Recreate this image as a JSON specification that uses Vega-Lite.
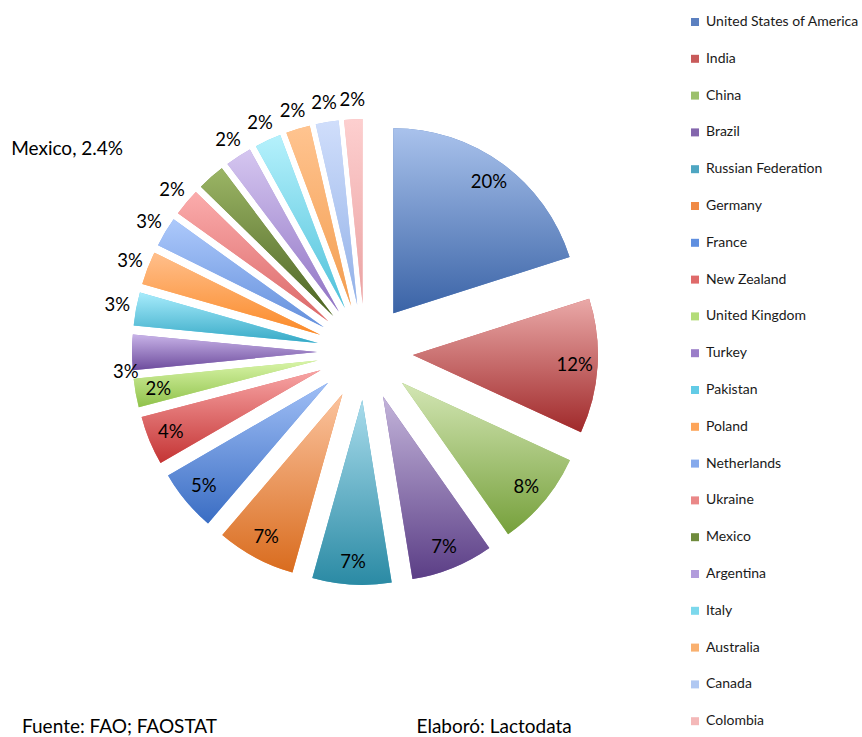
{
  "$schema": "https://vega.github.io/schema/vega-lite/v6.json",
  "width": 730,
  "height": 704,
  "autosize": {"type": "none"},
  "padding": {"left": 0, "top": 0, "right": 132, "bottom": 33},
  "background": "white",
  "config": {"view": {"stroke": null}, "font": "Lato"},
  "title": {
    "text": "Fuente: FAO; FAOSTAT\u2003\u2003\u2003\u2003\u2003\u2003\u2003\u2003\u2003\u2003\u2003\u2003\u2003\u2003Elaboró: Lactodata",
    "orient": "bottom",
    "anchor": "start",
    "frame": "group",
    "dx": 22,
    "offset": -11,
    "font": "Lato",
    "fontSize": 19,
    "fontWeight": "normal",
    "color": "#000000"
  },
  "data": {
    "values": [
      {"i": 1, "country": "United States of America", "share": 0.201},
      {"i": 2, "country": "India", "share": 0.118},
      {"i": 3, "country": "China", "share": 0.084},
      {"i": 4, "country": "Brazil", "share": 0.072},
      {"i": 5, "country": "Russian Federation", "share": 0.069},
      {"i": 6, "country": "Germany", "share": 0.069},
      {"i": 7, "country": "France", "share": 0.054},
      {"i": 8, "country": "New Zealand", "share": 0.043},
      {"i": 9, "country": "United Kingdom", "share": 0.0249},
      {"i": 10, "country": "Turkey", "share": 0.031},
      {"i": 11, "country": "Pakistan", "share": 0.029},
      {"i": 12, "country": "Poland", "share": 0.029},
      {"i": 13, "country": "Netherlands", "share": 0.026},
      {"i": 14, "country": "Ukraine", "share": 0.024},
      {"i": 15, "country": "Mexico", "share": 0.024},
      {"i": 16, "country": "Argentina", "share": 0.023},
      {"i": 17, "country": "Italy", "share": 0.023},
      {"i": 18, "country": "Australia", "share": 0.021},
      {"i": 19, "country": "Canada", "share": 0.020},
      {"i": 20, "country": "Colombia", "share": 0.016}
    ]
  },
  "encoding": {
    "theta": {"field": "share", "type": "quantitative", "stack": true},
    "order": {"field": "i", "type": "quantitative"}
  },
  "layer": [
    {
      "mark": {
        "type": "arc",
        "outerRadius": 185,
        "xOffset": {"expr": "48*sin(scale('theta', (datum.share_start + datum.share_end)/2))"},
        "yOffset": {"expr": "-48*cos(scale('theta', (datum.share_start + datum.share_end)/2))"}
      },
      "encoding": {
        "color": {
          "field": "country",
          "type": "nominal",
          "scale": {
            "domain": ["United States of America", "India", "China", "Brazil", "Russian Federation", "Germany", "France", "New Zealand", "United Kingdom", "Turkey", "Pakistan", "Poland", "Netherlands", "Ukraine", "Mexico", "Argentina", "Italy", "Australia", "Canada", "Colombia"],
            "range": ["#5b80c0", "#c85a5a", "#9cc06c", "#8466ad", "#4ea6c2", "#f08a45", "#5f8fe0", "#df6a6a", "#b3dc78", "#9a7dc8", "#62cbe6", "#fda55a", "#85a9ec", "#ea8888", "#6f8b3c", "#b29cdc", "#7cd8ec", "#f9b06f", "#b0c8f2", "#f4b8b8"]
          },
          "legend": {
            "orient": "none",
            "legendX": 688,
            "legendY": 15,
            "title": null,
            "symbolType": "square",
            "symbolSize": 64,
            "symbolStrokeWidth": 0,
            "labelFont": "Lato",
            "labelFontSize": 14,
            "labelColor": "#1a1a1a",
            "labelOffset": 4,
            "labelLimit": 300,
            "rowPadding": 22.8
          }
        }
      }
    },
    {
      "mark": {
        "type": "arc",
        "outerRadius": 185,
        "xOffset": {"expr": "48*sin(scale('theta', (datum.share_start + datum.share_end)/2))"},
        "yOffset": {"expr": "-48*cos(scale('theta', (datum.share_start + datum.share_end)/2))"}
      },
      "encoding": {
        "fill": {
          "condition": [
            {"test": "datum.i === 1", "value": {"gradient": "linear", "x1": 0, "y1": 0, "x2": 0, "y2": 1, "stops": [{"offset": 0, "color": "#a9c2ec"}, {"offset": 1, "color": "#3a63a6"}]}},
            {"test": "datum.i === 2", "value": {"gradient": "linear", "x1": 0, "y1": 0, "x2": 0, "y2": 1, "stops": [{"offset": 0, "color": "#eaa9a8"}, {"offset": 1, "color": "#a0292a"}]}},
            {"test": "datum.i === 3", "value": {"gradient": "linear", "x1": 0, "y1": 0, "x2": 0, "y2": 1, "stops": [{"offset": 0, "color": "#d3e6b4"}, {"offset": 1, "color": "#76a03b"}]}},
            {"test": "datum.i === 4", "value": {"gradient": "linear", "x1": 0, "y1": 0, "x2": 0, "y2": 1, "stops": [{"offset": 0, "color": "#c3b4da"}, {"offset": 1, "color": "#5b3e86"}]}},
            {"test": "datum.i === 5", "value": {"gradient": "linear", "x1": 0, "y1": 0, "x2": 0, "y2": 1, "stops": [{"offset": 0, "color": "#a9dcec"}, {"offset": 1, "color": "#2a8aa4"}]}},
            {"test": "datum.i === 6", "value": {"gradient": "linear", "x1": 0, "y1": 0, "x2": 0, "y2": 1, "stops": [{"offset": 0, "color": "#fbc39e"}, {"offset": 1, "color": "#d96c1e"}]}},
            {"test": "datum.i === 7", "value": {"gradient": "linear", "x1": 0, "y1": 0, "x2": 0, "y2": 1, "stops": [{"offset": 0, "color": "#a0bff6"}, {"offset": 1, "color": "#3a6dc3"}]}},
            {"test": "datum.i === 8", "value": {"gradient": "linear", "x1": 0, "y1": 0, "x2": 0, "y2": 1, "stops": [{"offset": 0, "color": "#f8a5a5"}, {"offset": 1, "color": "#c43434"}]}},
            {"test": "datum.i === 9", "value": {"gradient": "linear", "x1": 0, "y1": 0, "x2": 0, "y2": 1, "stops": [{"offset": 0, "color": "#d9f5a8"}, {"offset": 1, "color": "#8fc14a"}]}},
            {"test": "datum.i === 10", "value": {"gradient": "linear", "x1": 0, "y1": 0, "x2": 0, "y2": 1, "stops": [{"offset": 0, "color": "#c8b3e8"}, {"offset": 1, "color": "#6c4b9c"}]}},
            {"test": "datum.i === 11", "value": {"gradient": "linear", "x1": 0, "y1": 0, "x2": 0, "y2": 1, "stops": [{"offset": 0, "color": "#a8ecfc"}, {"offset": 1, "color": "#36a9c6"}]}},
            {"test": "datum.i === 12", "value": {"gradient": "linear", "x1": 0, "y1": 0, "x2": 0, "y2": 1, "stops": [{"offset": 0, "color": "#ffbf8c"}, {"offset": 1, "color": "#fb8a28"}]}},
            {"test": "datum.i === 13", "value": {"gradient": "linear", "x1": 0, "y1": 0, "x2": 0, "y2": 1, "stops": [{"offset": 0, "color": "#adc9fb"}, {"offset": 1, "color": "#6490dc"}]}},
            {"test": "datum.i === 14", "value": {"gradient": "linear", "x1": 0, "y1": 0, "x2": 0, "y2": 1, "stops": [{"offset": 0, "color": "#fbacac"}, {"offset": 1, "color": "#db6868"}]}},
            {"test": "datum.i === 15", "value": {"gradient": "linear", "x1": 0, "y1": 0, "x2": 0, "y2": 1, "stops": [{"offset": 0, "color": "#9bb565"}, {"offset": 1, "color": "#4d6424"}]}},
            {"test": "datum.i === 16", "value": {"gradient": "linear", "x1": 0, "y1": 0, "x2": 0, "y2": 1, "stops": [{"offset": 0, "color": "#d5c6f0"}, {"offset": 1, "color": "#9074c4"}]}},
            {"test": "datum.i === 17", "value": {"gradient": "linear", "x1": 0, "y1": 0, "x2": 0, "y2": 1, "stops": [{"offset": 0, "color": "#b5f1fc"}, {"offset": 1, "color": "#4fc1da"}]}},
            {"test": "datum.i === 18", "value": {"gradient": "linear", "x1": 0, "y1": 0, "x2": 0, "y2": 1, "stops": [{"offset": 0, "color": "#ffc490"}, {"offset": 1, "color": "#f39d50"}]}},
            {"test": "datum.i === 19", "value": {"gradient": "linear", "x1": 0, "y1": 0, "x2": 0, "y2": 1, "stops": [{"offset": 0, "color": "#d0defb"}, {"offset": 1, "color": "#92b1e8"}]}}
          ],
          "value": {"gradient": "linear", "x1": 0, "y1": 0, "x2": 0, "y2": 1, "stops": [{"offset": 0, "color": "#fdcfcf"}, {"offset": 1, "color": "#eaa2a2"}]}
        }
      }
    },
    {
      "mark": {"type": "text", "radius": 210, "font": "Lato", "fontSize": 18.5, "color": "#000000"},
      "encoding": {
        "text": {"condition": {"test": "datum.i <= 9", "field": "share", "type": "quantitative", "format": ".0%"}, "value": ""}
      }
    },
    {
      "mark": {"type": "text", "radius": 252, "font": "Lato", "fontSize": 18.5, "color": "#000000"},
      "encoding": {
        "text": {"condition": {"test": "datum.i >= 11 && datum.country !== 'Mexico'", "field": "share", "type": "quantitative", "format": ".0%"}, "value": ""}
      }
    },
    {
      "mark": {"type": "text", "radius": 240, "thetaOffset": -0.08, "font": "Lato", "fontSize": 18.5, "color": "#000000"},
      "encoding": {
        "text": {"condition": {"test": "datum.i === 10", "field": "share", "type": "quantitative", "format": ".0%"}, "value": ""}
      }
    },
    {
      "mark": {
        "type": "text",
        "radius": 316,
        "thetaOffset": -0.15,
        "align": "right",
        "font": "Lato",
        "fontSize": 19,
        "color": "#000000",
        "text": {"expr": "datum.country === 'Mexico' ? datum.country + ', ' + format(datum.share, '.1%') : ''"}
      }
    }
  ]
}
